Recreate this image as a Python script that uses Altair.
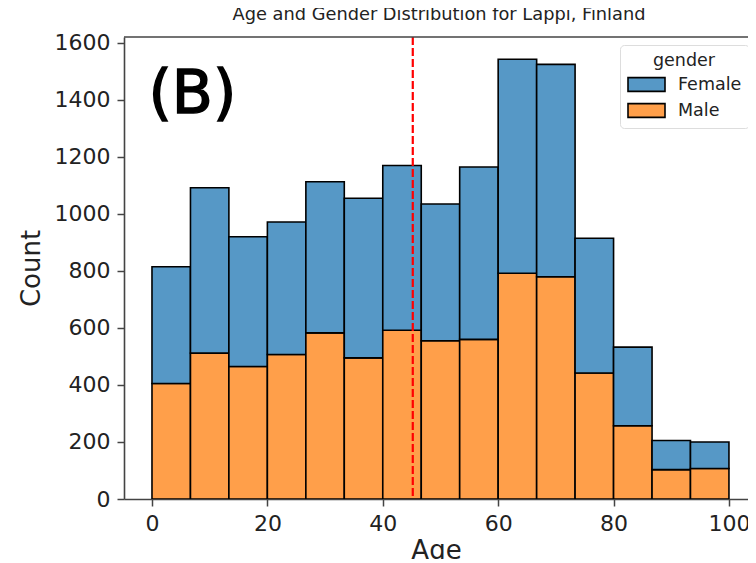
import altair as alt
import pandas as pd

edges = [0, 6.67, 13.33, 20, 26.67, 33.33, 40, 46.67, 53.33, 60, 66.67, 73.33, 80, 86.67, 93.33, 100]
male = [405, 512, 465, 507, 583, 495, 592, 555, 560, 792, 780, 442, 257, 103, 107]
total = [815, 1092, 920, 972, 1113, 1055, 1170, 1035, 1165, 1543, 1525, 915, 533, 205, 200]
genders = ["Female", "Male"]
colors = ["#5698c6", "#ff9f4a"]
x_ticks = [0, 20, 40, 60, 80, 100]
y_ticks = [0, 200, 400, 600, 800, 1000, 1200, 1400, 1600]
x_domain = [-4.85, 103.3]
y_domain = [0, 1621]
mean_age = 45.2
FONT = "DejaVu Sans"

rows = []
for i in range(len(male)):
    rows.append(dict(x=edges[i], x2=edges[i + 1], y=0, y2=male[i], gender="Male"))
    rows.append(dict(x=edges[i], x2=edges[i + 1], y=male[i], y2=total[i], gender="Female"))
df = pd.DataFrame(rows)

x_scale = alt.Scale(domain=x_domain, nice=False, zero=False)
y_scale = alt.Scale(domain=y_domain, nice=False)

bars = alt.Chart(df).mark_bar(stroke="black", strokeWidth=1.6, clip=True).encode(
    x=alt.X("x:Q", scale=x_scale,
            axis=alt.Axis(values=x_ticks, title="Age", grid=False, format="d")),
    x2="x2:Q",
    y=alt.Y("y:Q", scale=y_scale,
            axis=alt.Axis(values=y_ticks, title="Count", grid=False, format="d")),
    y2="y2:Q",
    color=alt.Color("gender:N", scale=alt.Scale(domain=genders, range=colors),
                    legend=alt.Legend(orient="none", legendX=496, legendY=8, title="gender",
                                      symbolType="M-1,-0.37H1V0.37H-1Z", symbolSize=1369,
                                      symbolStrokeColor="black", symbolStrokeWidth=1.6,
                                      symbolOpacity=1, titleAnchor="middle",
                                      fillColor="white", strokeColor="#dddddd",
                                      cornerRadius=4, padding=7, labelOffset=12,
                                      clipHeight=20, rowPadding=6, titlePadding=5)),
)

mean_line = alt.Chart(pd.DataFrame({"x": [mean_age]})).mark_rule(
    color="#ff0000", strokeDash=[8, 3], strokeWidth=2.2).encode(x=alt.X("x:Q", scale=x_scale))

top_spine = alt.Chart(pd.DataFrame({"x": [x_domain[0]], "x2": [x_domain[1]], "y": [y_domain[1]]})).mark_rule(
    color="#444444", strokeWidth=1.6).encode(
    x=alt.X("x:Q", scale=x_scale), x2="x2:Q", y=alt.Y("y:Q", scale=y_scale))

label = alt.Chart(pd.DataFrame({"x": [7.0], "y": [1354], "t": ["(B)"]})).mark_text(
    font=FONT, fontSize=60, color="black", stroke="black", strokeWidth=1.5,
    align="center", baseline="alphabetic").encode(
    x=alt.X("x:Q", scale=x_scale), y=alt.Y("y:Q", scale=y_scale), text="t:N")

chart = (bars + mean_line + top_spine + label).properties(
    width=624, height=462,
    padding={"left": 116, "top": 29, "right": 0, "bottom": 60},
    autosize=alt.AutoSizeParams(type="none"),
    title=alt.TitleParams("Age and Gender Distribution for Lappi, Finland", font=FONT, fontSize=17.8,
                          fontWeight="normal", color="#222222", anchor="middle", offset=8, dx=3),
).configure_view(stroke=None).configure_axis(
    labelFont=FONT, titleFont=FONT, labelFontSize=22, titleFontSize=26,
    titleFontWeight="normal", labelColor="#222222", titleColor="#222222",
    domainColor="#444444", domainWidth=1.6, tickColor="#444444", tickWidth=1.5, tickSize=7,
    labelFlush=False,
).configure_axisX(titlePadding=3, labelPadding=7).configure_axisY(titlePadding=10, labelPadding=7).configure_legend(
    labelFont=FONT, titleFont=FONT, labelFontSize=17.5, titleFontSize=17.5, titleFontWeight="normal",
    labelColor="#222222", titleColor="#222222",
)

chart.save("out.html", embed_options={"renderer": "svg", "actions": False})
